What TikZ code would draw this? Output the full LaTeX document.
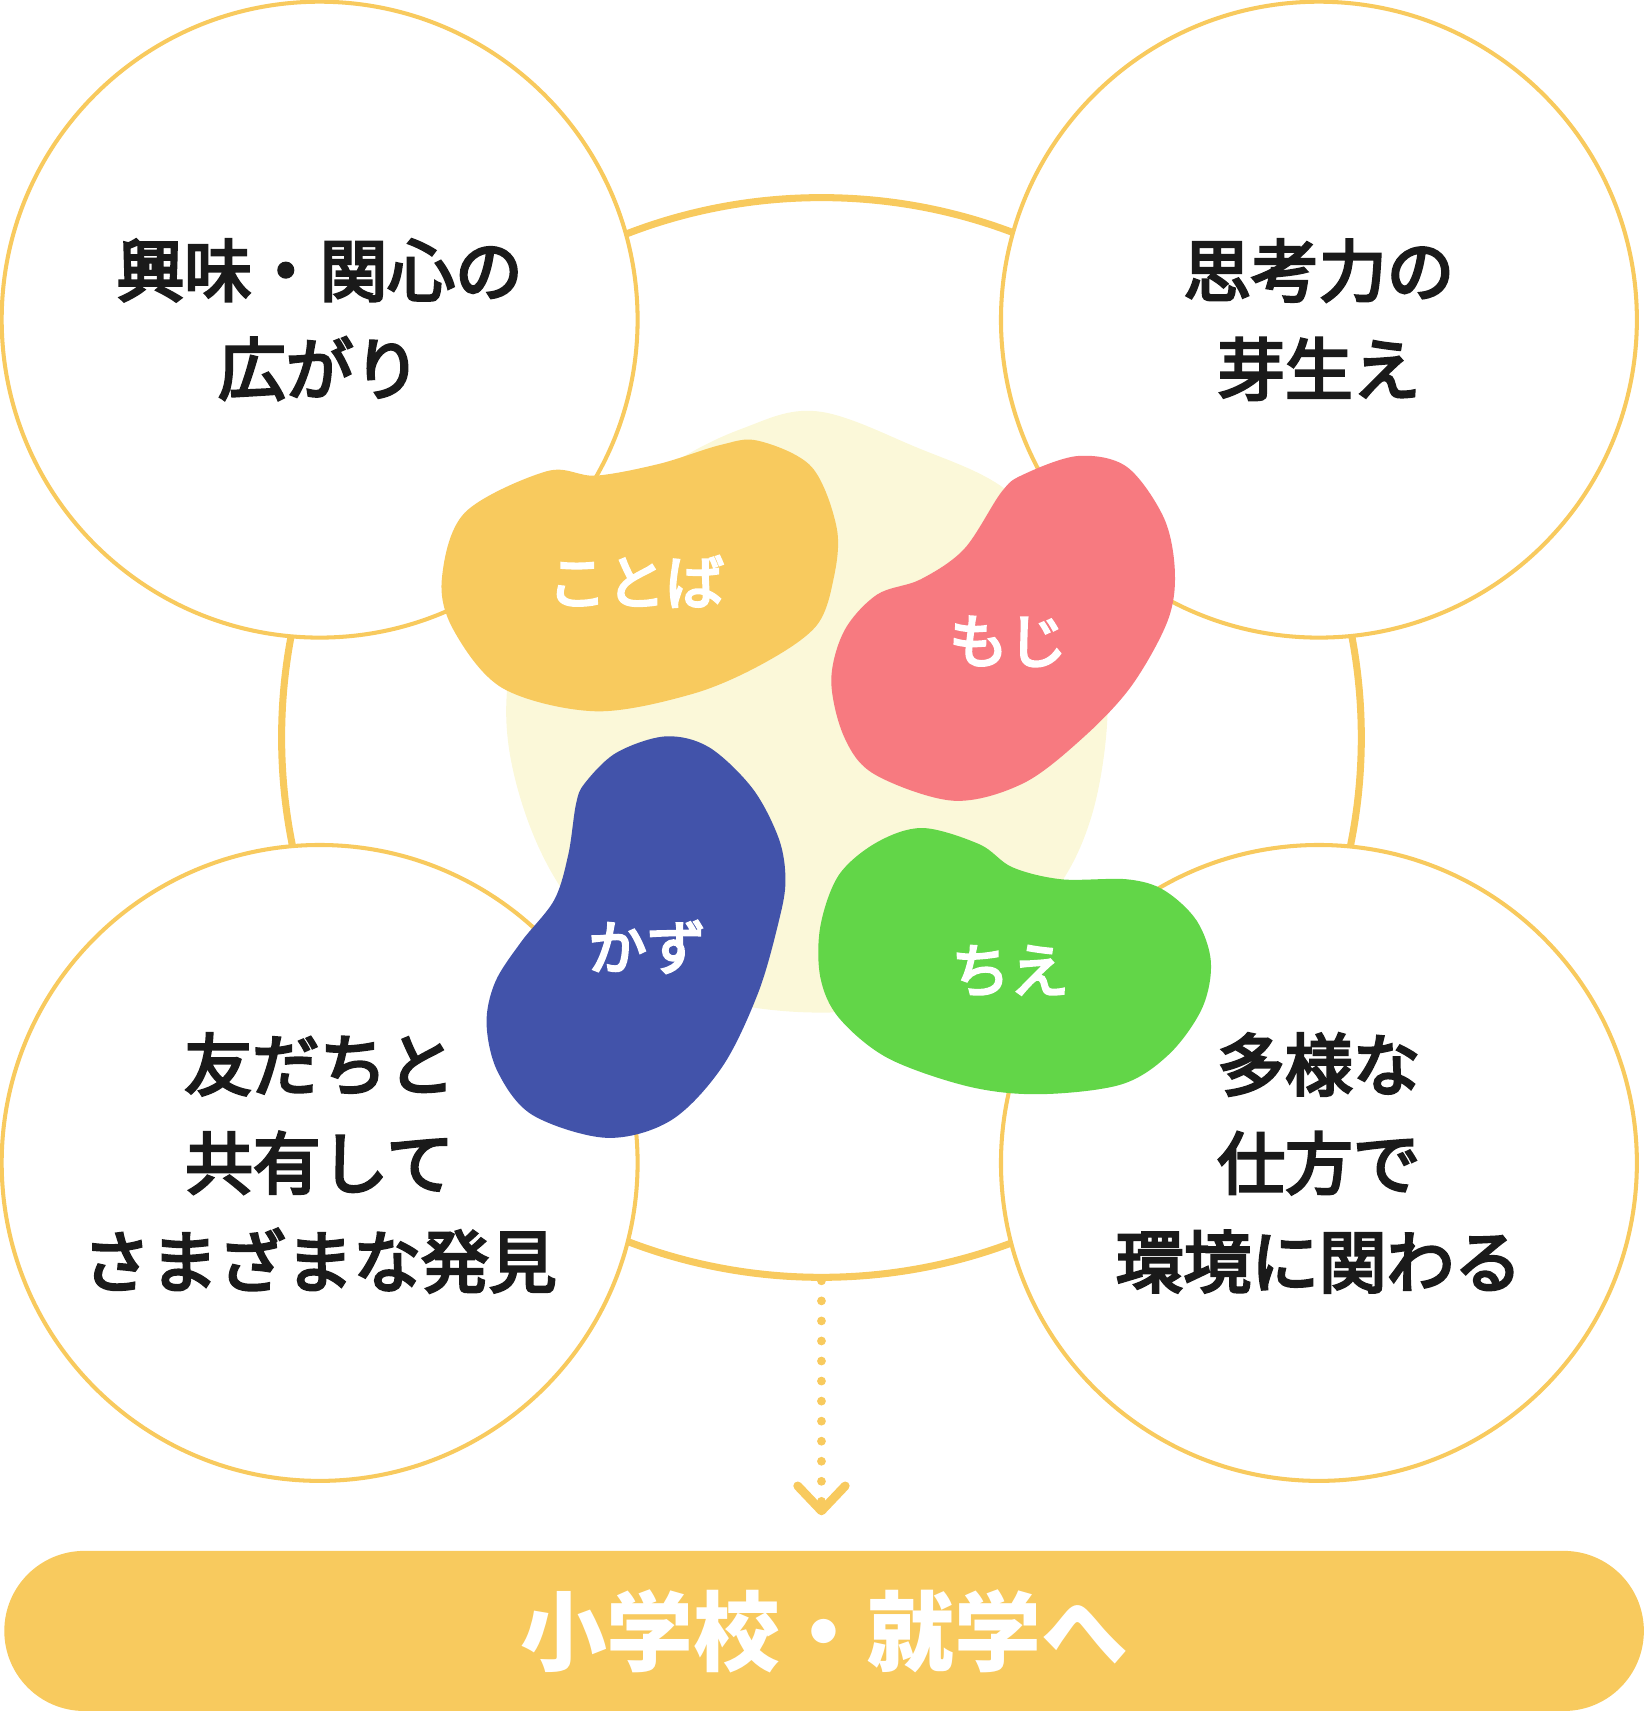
\documentclass[tikz,border=0pt]{standalone}
\usepackage{fontspec}
\newfontfamily\jp{Noto Sans CJK JP}
\newfontfamily\jpmid{Noto Sans CJK JP}[FakeBold=4]
\usetikzlibrary{positioning,arrows.meta}
\definecolor{lineC}{HTML}{F8CA5E}
\definecolor{paleC}{HTML}{FBF8D9}
\definecolor{kotobaC}{HTML}{F8CA5E}
\definecolor{mojiC}{HTML}{F77A80}
\definecolor{kazuC}{HTML}{4253AA}
\definecolor{chieC}{HTML}{62D648}
\definecolor{inkC}{HTML}{1A1A1A}
\tikzset{
  bubble/.style={circle, draw=lineC, fill=white, line width=2.3pt, minimum size=12.71cm,
    inner sep=0pt, align=center, text=inkC, font=\jpmid\fontsize{38.5}{56}\selectfont},
  beanlabel/.style={text=white, font=\jpmid\fontsize{33.5}{36}\selectfont},
  dotarrow/.style={draw=lineC, line width=5pt, line cap=round, dash pattern=on 0pt off 11.4pt,
    -{Straight Barb[length=0.5cm, width=0.95cm, round]}}
}
\begin{document}
\begin{tikzpicture}[x=0.0218cm, y=-0.0218cm]
  \useasboundingbox (0,0) rectangle (1507,1568.4);
  \node[circle, draw=lineC, line width=4pt, minimum size=21.58cm, inner sep=0pt] (ring) at (753,676) {};
  \node[bubble] (interest) at (293,293) {興味・関心の\\広がり};
  \node[bubble] (thinking) at (1209,293) {思考力の\\芽生え};
  \node[bubble] (friends) at (293,1066) {友だちと\\共有して\\さまざまな発見};
  \node[bubble] (various) at (1209,1066) {多様な\\仕方で\\環境に関わる};
  \fill[paleC] plot[smooth cycle, tension=0.6] coordinates {(749,377) (840,410) (921,448) (975,510)
    (1008,590) (1015,660) (1000,750) (965,820) (900,885) (820,920) (740,928) (650,915) (575,880)
    (515,815) (478,735) (464,650) (480,560) (525,490) (611,428) (680,393)};
  \fill[kotobaC] plot[smooth cycle, tension=0.55] coordinates {(405,531) (426,470) (501,432) (546,436)
    (605,425) (660,408) (695,404) (744,428) (767,484) (764,531) (748,574) (700,608) (635,636)
    (546,652) (461,631) (416,578)};
  \fill[mojiC] plot[smooth cycle, tension=0.55] coordinates {(988,418) (938,435) (918,451) (884,503)
    (844,531) (804,545) (774,578) (762,624) (774,676) (802,710) (874,734) (938,718) (993,676)
    (1037,629) (1070,570) (1077,525) (1067,475) (1033,428)};
  \fill[kazuC] plot[smooth cycle, tension=0.55] coordinates {(610,675) (565,690) (536,718) (528,737)
    (521,783) (508,825) (478,863) (454,900) (446,938) (456,982) (488,1022) (556,1043) (615,1027)
    (662,978) (695,910) (714,844) (720,807) (714,769) (690,723) (650,685)};
  \fill[chieC] plot[smooth cycle, tension=0.55] coordinates {(846,759) (804,772) (769,802) (752,849)
    (752,896) (769,933) (814,970) (888,996) (953,1003) (1028,994) (1072,966) (1102,924) (1110,882)
    (1097,844) (1067,816) (1033,806) (973,806) (928,795) (898,774)};
  \node[beanlabel] (kotoba) at (583,533) {ことば};
  \node[beanlabel] (moji) at (924,588) {もじ};
  \node[beanlabel] (kazu) at (593,868) {かず};
  \node[beanlabel] (chie) at (926,890) {ちえ};
  \node[fill=kotobaC, rounded corners=1.6cm, minimum width=32.77cm, minimum height=3.2cm,
    text=white, font=\jp\bfseries\fontsize{49.4}{56}\selectfont] (school) at (755.4,1495) {小学校・就学へ};
  \coordinate (tip) at (753,1389);
  \draw[dotarrow] (ring.south) -- (tip);
\end{tikzpicture}
\end{document}
